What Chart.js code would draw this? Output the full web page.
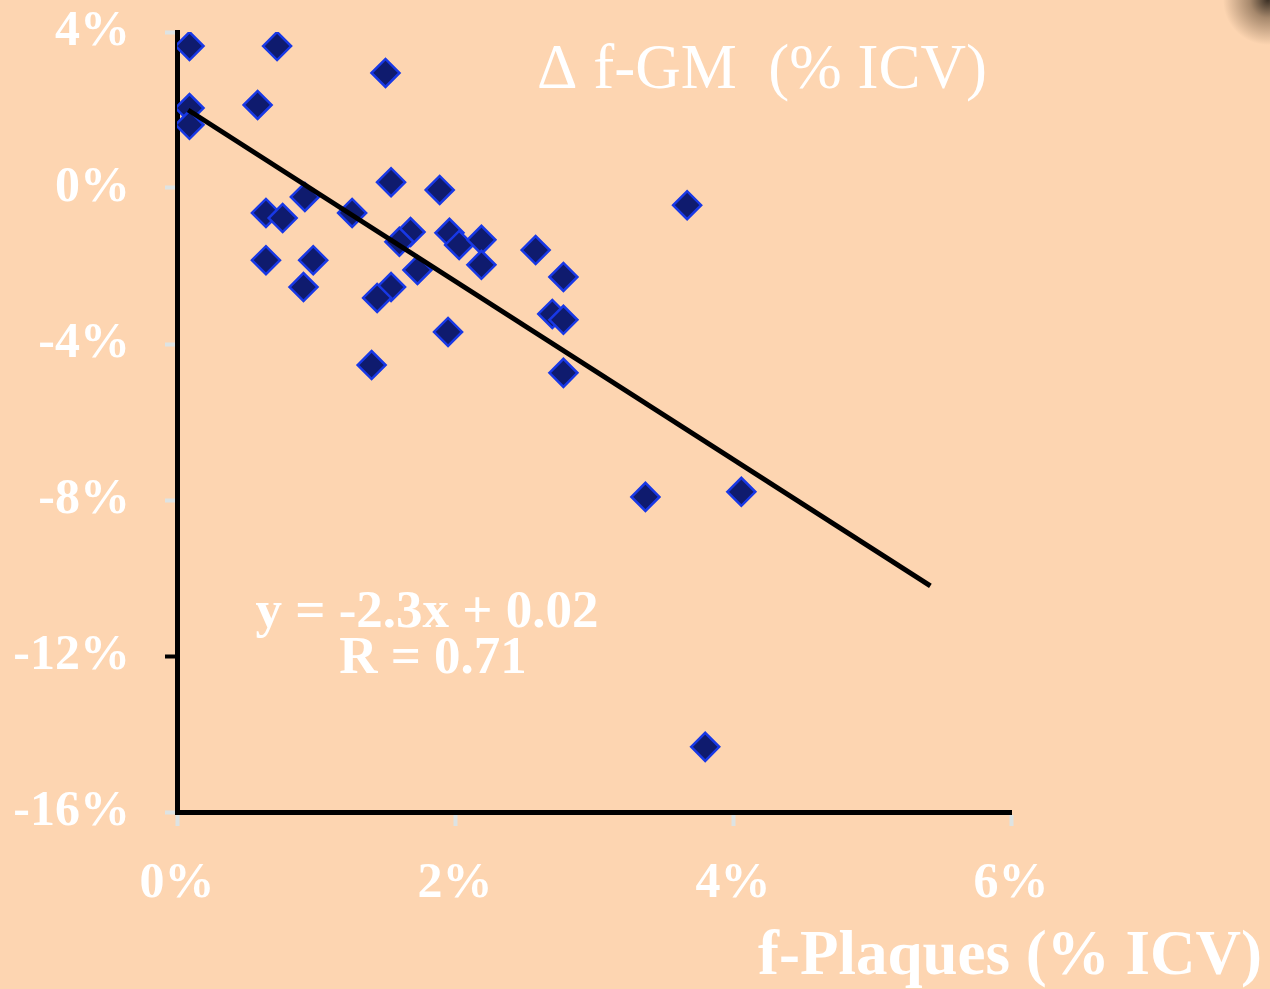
<!DOCTYPE html>
<html>
<head>
<meta charset="utf-8">
<script src="https://cdn.jsdelivr.net/npm/chart.js@4"></script>
<style>
  html, body { margin: 0; padding: 0; }
  body {
    width: 1270px; height: 989px; overflow: hidden;
    background: radial-gradient(circle at 1268px 0px, rgba(50,40,30,0.95) 0px, rgba(80,60,40,0.5) 18px, rgba(253,213,177,0) 45px), #fdd5b1;
  }
  #wrap { position: absolute; left: 0; top: 0; width: 1270px; height: 989px; }
</style>
</head>
<body>
<div id="wrap"><canvas id="myChart" width="1270" height="989"></canvas></div>
<script>
// valeurs (en %)
let plaques = [0.09, 0.72, 1.50, 0.09, 0.09, 0.58, 1.54, 1.89, 0.92, 1.26, 0.64, 0.76, 3.67, 1.68, 1.60,
               1.96, 2.03, 2.19, 2.58, 0.64, 0.98, 2.19, 1.73, 2.78, 0.91, 1.54, 1.44, 2.70, 2.78, 1.95,
               1.40, 2.78, 3.37, 4.06, 3.80];
let deltaGM = [3.64, 3.64, 2.95, 2.05, 1.62, 2.13, 0.15, -0.05, -0.23, -0.64, -0.64, -0.77, -0.44, -1.13, -1.38,
               -1.15, -1.46, -1.33, -1.59, -1.85, -1.85, -1.97, -2.10, -2.28, -2.54, -2.54, -2.82, -3.23, -3.38, -3.69,
               -4.54, -4.74, -7.92, -7.79, -14.33];

// droite de regression (extremites lues)
let trendX = [0.08, 5.42];
let trendY = [2.0, -10.2];

let xTicks = [0, 2, 4, 6];
let yTicks = [4, 0, -4, -8, -12, -16];

let titre = "\u0394 f-GM  (% ICV)";
let titreX = "f-Plaques (% ICV)";
let equation = "y = -2.3x + 0.02";
let correlation = "R = 0.71";

let points = [];
plaques.forEach((x, i) => {
	points.push({x: x, y: deltaGM[i]});
});
let ligne = trendX.map((x, i) => ({x: x, y: trendY[i]}));

const serif = "'Liberation Serif', 'Times New Roman', serif";

const textes = {
	id: 'textes',
	afterDraw(chart) {
		const ctx = chart.ctx;
		ctx.save();
		ctx.fillStyle = '#ffffff';
		ctx.textBaseline = 'alphabetic';

		ctx.font = "normal 63px " + serif;
		ctx.textAlign = 'center';
		ctx.fillText(titre, 762, 88);

		ctx.font = "bold 63px " + serif;
		ctx.textAlign = 'right';
		ctx.fillText(titreX, 1262, 974);

		ctx.font = "bold 53px " + serif;
		ctx.textAlign = 'center';
		ctx.fillText(equation, 427, 627);
		ctx.fillText(correlation, 433, 673);
		ctx.restore();
	}
};

const config = {
	type: 'scatter',
	data: {
		datasets: [
			{
				data: points,
				pointStyle: 'rectRot',
				pointRadius: 14,
				pointHoverRadius: 14,
				backgroundColor: '#0f1b6e',
				borderColor: '#1838e6',
				borderWidth: 2.5,
				order: 2
			},
			{
				type: 'line',
				data: ligne,
				showLine: true,
				borderColor: '#000000',
				borderWidth: 5,
				pointRadius: 0,
				fill: false,
				order: 1
			}
		]
	},
	options: {
		responsive: false,
		animation: false,
		events: [],
		layout: { padding: { left: 0, right: 259, top: 32, bottom: 0 } },
		plugins: {
			legend: { display: false },
			tooltip: { enabled: false },
			title: { display: false }
		},
		scales: {
			x: {
				type: 'linear',
				min: 0,
				max: 6,
				afterBuildTicks: (scale) => { scale.ticks = xTicks.map(v => ({value: v})); },
				afterFit: (scale) => { scale.height = 177; scale.paddingLeft = 0; scale.paddingRight = 0; },
				border: { color: '#000000', width: 5 },
				grid: { drawOnChartArea: false, drawTicks: true, tickLength: 14, tickWidth: 4, tickColor: '#dde3e3' },
				ticks: {
					color: '#ffffff',
					padding: 28,
					maxRotation: 0,
					font: { family: serif, size: 50, weight: 'bold' },
					callback: (v) => v + '%'
				}
			},
			y: {
				type: 'linear',
				min: -16,
				max: 4,
				afterBuildTicks: (scale) => { scale.ticks = yTicks.map(v => ({value: v})); },
				afterFit: (scale) => { scale.width = 177; scale.paddingTop = 0; scale.paddingBottom = 0; },
				border: { color: '#000000', width: 5 },
				grid: {
					drawOnChartArea: false,
					drawTicks: true,
					tickLength: 12,
					tickWidth: 4,
					tickColor: (c) => (c.tick && c.tick.value === -12 ? '#000000' : '#dde3e3')
				},
				ticks: {
					color: '#ffffff',
					padding: 35,
					font: { family: serif, size: 50, weight: 'bold' },
					callback: (v) => v + '%'
				}
			}
		}
	},
	plugins: [textes]
};

new Chart(document.getElementById('myChart'), config);
</script>
</body>
</html>
